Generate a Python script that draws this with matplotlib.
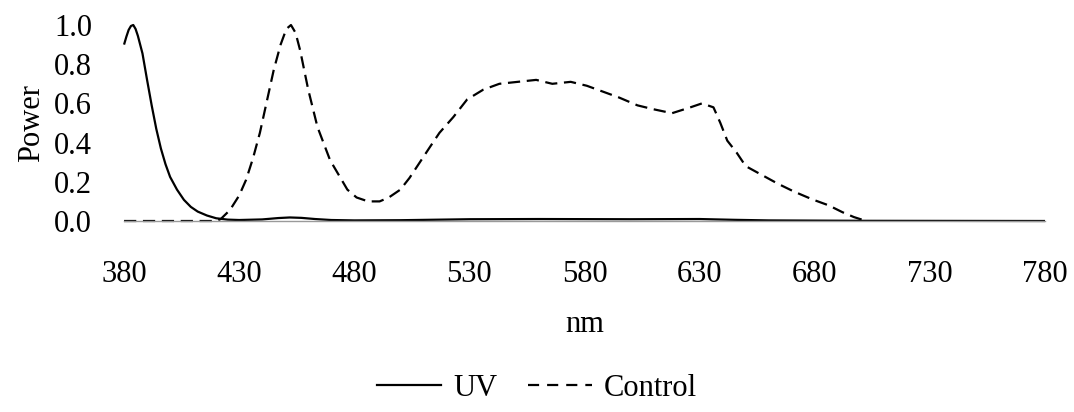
import matplotlib
matplotlib.use("Agg")
import matplotlib.pyplot as plt
from matplotlib.lines import Line2D

plt.rcParams['font.family'] = ['Liberation Serif', 'DejaVu Serif']

uv_nm = [380, 381, 382, 383, 384, 385, 386, 388, 390, 392, 394, 396, 398, 400, 403,
         406, 409, 412, 416, 420, 425, 430, 440, 447, 452, 457, 463, 470, 480, 500,
         530, 560, 600, 630, 645, 660, 700, 780]
uv_val = [0.90, 0.94, 0.975, 0.995, 1.00, 0.98, 0.945, 0.855, 0.72, 0.59, 0.47, 0.37,
          0.29, 0.225, 0.16, 0.108, 0.072, 0.048, 0.028, 0.014, 0.007, 0.005, 0.008,
          0.015, 0.018, 0.016, 0.010, 0.005, 0.003, 0.004, 0.009, 0.010, 0.009,
          0.010, 0.006, 0.003, 0.001, 0.0]

ctrl_nm = [380, 420, 422, 426, 430, 433, 436, 439, 442, 445, 448, 450.5, 452.5, 454.5,
           456.5, 460, 464, 469.5, 477, 481, 486, 491, 495, 500, 504, 508.5, 513, 517,
           523, 529, 536, 543, 551, 559, 566, 574, 581, 588, 595, 603, 610, 618, 626,
           631, 636, 639, 642, 646, 650, 657, 664, 671, 679, 686, 692, 697, 701]
ctrl_val = [0.0, 0.0, 0.01, 0.056, 0.13, 0.21, 0.32, 0.45, 0.61, 0.77, 0.90, 0.98,
            1.00, 0.96, 0.87, 0.67, 0.48, 0.31, 0.16, 0.12, 0.10, 0.10, 0.12, 0.16,
            0.22, 0.30, 0.38, 0.45, 0.53, 0.62, 0.67, 0.70, 0.71, 0.72, 0.70, 0.71,
            0.69, 0.66, 0.63, 0.59, 0.57, 0.55, 0.58, 0.60, 0.58, 0.50, 0.41, 0.35,
            0.28, 0.235, 0.19, 0.15, 0.11, 0.08, 0.045, 0.02, 0.005]

x_ticks = [380, 430, 480, 530, 580, 630, 680, 730, 780]
y_ticks = [0.0, 0.2, 0.4, 0.6, 0.8, 1.0]

FS = 22

fig = plt.figure(figsize=(10.74, 4.12), dpi=100)
ax = fig.add_axes([0.1155, 0.4636, 0.8575, 0.4757])

ax.plot(uv_nm, uv_val, color='black', lw=1.6, clip_on=False, solid_capstyle='butt')
ax.plot(ctrl_nm, ctrl_val, color='black', lw=1.6, dashes=(5.5, 3), clip_on=False)

ax.set_xlim(380, 780)
ax.set_ylim(0, 1.0)
ax.set_xticks(x_ticks)
ax.set_yticks(y_ticks)
ax.set_yticklabels([f"{v:.1f}" for v in y_ticks])
ax.tick_params(axis='both', length=0, labelsize=FS)
ax.tick_params(axis='y', pad=23)
ax.tick_params(axis='x', pad=28)
for s in ['top', 'right', 'left']:
    ax.spines[s].set_visible(False)
ax.spines['bottom'].set_color('#9a9a9a')
ax.spines['bottom'].set_linewidth(1.0)

ax.set_xlabel('nm', fontsize=FS, labelpad=15)
ax.set_ylabel('Power', fontsize=FS, labelpad=6)

handles = [Line2D([], [], color='black', lw=1.6),
           Line2D([], [], color='black', lw=1.6, dashes=(5, 3.6))]
fig.legend(handles, ['UV', 'Control'], loc='center', bbox_to_anchor=(0.5, 0.058),
           ncol=2, frameon=False, fontsize=FS, handlelength=2.1, handletextpad=0.4,
           columnspacing=1.0)

fig.savefig('out.png', dpi=100)
